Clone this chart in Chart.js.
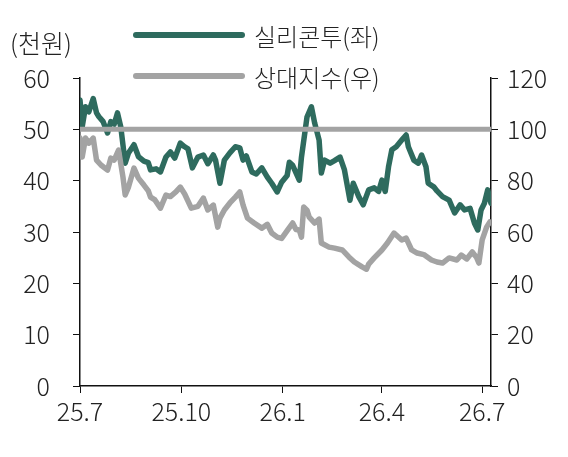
<!DOCTYPE html>
<html>
<head>
<meta charset="utf-8">
<script src="https://cdn.jsdelivr.net/npm/chart.js@4.4.1/dist/chart.umd.min.js"></script>
<style>
  html, body { margin: 0; padding: 0; background: #fff; }
  #wrap { position: relative; width: 568px; height: 457px; }
  canvas { position: absolute; left: 0; top: 0; }
  .txt { position: absolute; font-family: "Noto Sans CJK KR", "Noto Sans", sans-serif; font-weight: 300; font-size: 24px; color: #222; white-space: nowrap; line-height: 1; }
  .swatch { position: absolute; height: 6px; border-radius: 3px; }
</style>
</head>
<body>
<div id="wrap">
  <canvas id="chart" width="568" height="457"></canvas>
  <div class="txt" style="left:10px;top:30px;font-size:25px;">(천원)</div>
  <div class="swatch" style="left:133px;top:32px;width:112px;background:#2e6b5e;"></div>
  <div class="txt" style="left:254px;top:24px;">실리콘투(좌)</div>
  <div class="swatch" style="left:133px;top:73px;width:112px;background:#a3a3a3;"></div>
  <div class="txt" style="left:254px;top:65px;">상대지수(우)</div>
</div>
<script>
// x = days since 2025-07-01
const tickDays = [0, 92, 184, 274, 365];
const tickLabels = ['25.7', '25.10', '26.1', '26.4', '26.7'];

// 실리콘투 주가 (천원, 좌축)
const priceDays = [0, 2, 5, 8, 12, 15, 17, 21, 25, 28, 31, 34, 37, 41, 44, 49, 53, 58, 62, 64, 69, 73, 78, 82, 86, 91, 95, 98,
  102, 107, 112, 116, 121, 123, 127, 131, 136, 141, 145, 148, 151, 156, 160, 165, 170, 174, 179, 183, 188, 190, 193, 199,
  201, 206, 210, 213, 217, 219, 222, 227, 231, 236, 240, 245, 248, 253, 257, 262, 267, 271, 274, 277, 280, 283, 287, 292,
  296, 298, 303, 307, 310, 314, 316, 321, 324, 329, 335, 340, 345, 349, 354, 358, 361, 364, 367, 370, 373];
const priceValues = [55.7, 50.5, 54.4, 53.4, 56.0, 53.2, 52.5, 51.5, 49.3, 51.5, 51.0, 53.2, 50.5, 43.4, 45.4, 47.0, 44.7, 43.8,
  43.5, 42.1, 42.3, 41.7, 44.6, 45.6, 44.4, 47.3, 46.6, 46.2, 42.5, 44.6, 45.0, 43.3, 45.0, 44.0, 39.5, 44.0, 45.4, 46.6,
  46.4, 44.0, 44.8, 41.7, 41.3, 42.5, 40.7, 39.5, 37.8, 39.7, 41.0, 43.6, 43.0, 40.1, 44.6, 52.4, 54.4, 51.2, 47.9, 41.5,
  44.0, 43.4, 43.9, 44.6, 42.1, 36.2, 39.5, 36.9, 35.3, 38.2, 38.6, 37.9, 40.1, 37.9, 42.7, 46.0, 46.6, 47.9, 48.9, 46.6,
  44.0, 43.4, 45.0, 42.7, 39.5, 38.8, 38.0, 36.9, 36.2, 33.7, 35.3, 34.3, 34.6, 31.7, 30.4, 34.3, 35.6, 38.2, 35.6];

// 상대지수 (우축)
const indexDays = [0, 2, 5, 8, 12, 15, 19, 25, 28, 31, 35, 39, 41, 44, 49, 53, 58, 62, 64, 68, 73, 78, 82, 87, 91, 95, 101,
  107, 112, 116, 121, 125, 127, 131, 136, 141, 145, 148, 152, 158, 165, 170, 174, 179, 183, 189, 193, 196, 199, 201, 203,
  206, 208, 213, 217, 219, 226, 231, 238, 244, 249, 256, 260, 262, 267, 274, 279, 285, 292, 296, 301, 306, 312, 319, 324,
  329, 335, 342, 346, 351, 356, 360, 362, 365, 369, 372];
const indexValues = [96.6, 89.2, 96.6, 94.6, 96.6, 88.0, 86.1, 84.1, 88.8, 88.0, 91.9, 81.4, 74.4, 77.5, 84.9, 81.0, 78.3,
  76.0, 73.6, 72.5, 69.3, 74.4, 73.8, 75.6, 77.5, 74.8, 69.3, 70.0, 73.2, 68.6, 70.5, 61.9, 65.4, 68.6, 71.3, 73.6, 75.6,
  70.5, 65.4, 63.5, 61.5, 63.0, 59.6, 58.0, 57.5, 61.1, 63.5, 61.0, 60.8, 58.0, 69.7, 68.5, 65.8, 63.5, 65.0, 55.7, 54.1,
  53.7, 53.0, 50.3, 48.3, 46.4, 45.5, 47.5, 49.9, 53.0, 55.7, 59.6, 56.9, 57.6, 53.0, 51.8, 51.2, 49.1, 48.3, 47.9, 49.9,
  49.1, 51.0, 49.5, 52.2, 50.0, 47.9, 56.9, 61.9, 63.9];

const baseLine = 100;

const GREEN = '#2e6b5e';
const GRAY = '#a3a3a3';
const FONT = { family: '"Noto Sans CJK KR", "Noto Sans", sans-serif', size: 25, weight: 300 };

const toPoints = (xs, ys) => xs.map((x, i) => ({ x: x, y: ys[i] }));

const ctx = document.getElementById('chart').getContext('2d');
new Chart(ctx, {
  type: 'line',
  data: {
    datasets: [
      {
        label: '상대지수(우)',
        data: toPoints(indexDays, indexValues),
        yAxisID: 'y2',
        borderColor: GRAY,
        borderWidth: 5.5,
        pointRadius: 0,
        tension: 0,
        borderJoinStyle: 'round',
        borderCapStyle: 'round'
      },
      {
        label: 'base',
        data: [{ x: tickDays[0], y: baseLine }, { x: 373, y: baseLine }],
        yAxisID: 'y2',
        borderColor: GRAY,
        borderWidth: 5,
        pointRadius: 0
      },
      {
        label: '실리콘투(좌)',
        data: toPoints(priceDays, priceValues),
        yAxisID: 'y',
        borderColor: GREEN,
        borderWidth: 5.5,
        pointRadius: 0,
        tension: 0,
        borderJoinStyle: 'round',
        borderCapStyle: 'round'
      }
    ]
  },
  options: {
    responsive: false,
    animation: false,
    layout: { padding: { top: 78, left: 0, right: 0, bottom: 0 } },
    plugins: { legend: { display: false }, tooltip: { enabled: false } },
    scales: {
      x: {
        type: 'linear',
        min: 0,
        max: 373,
        afterBuildTicks: (axis) => { axis.ticks = tickDays.map(v => ({ value: v })); },
        afterFit: (axis) => { axis.height = 71; },
        ticks: {
          font: FONT,
          color: '#222',
          padding: 3,
          maxRotation: 0,
          autoSkip: false,
          callback: (v) => tickLabels[tickDays.indexOf(v)]
        },
        grid: { drawOnChartArea: false, tickLength: 7, color: '#111' },
        border: { color: '#111', width: 1.5 }
      },
      y: {
        position: 'left',
        min: 0,
        max: 60,
        afterFit: (axis) => { axis.width = 80; },
        ticks: { stepSize: 10, font: FONT, color: '#222', padding: 23 },
        grid: { drawOnChartArea: false, tickLength: 7, color: '#111' },
        border: { color: '#111', width: 1.5 }
      },
      y2: {
        position: 'right',
        min: 0,
        max: 120,
        afterFit: (axis) => { axis.width = 77; },
        ticks: { stepSize: 20, font: FONT, color: '#222', padding: 9 },
        grid: { drawOnChartArea: false, tickLength: 7, color: '#111' },
        border: { color: '#111', width: 1.5 }
      }
    }
  }
});
</script>
</body>
</html>
